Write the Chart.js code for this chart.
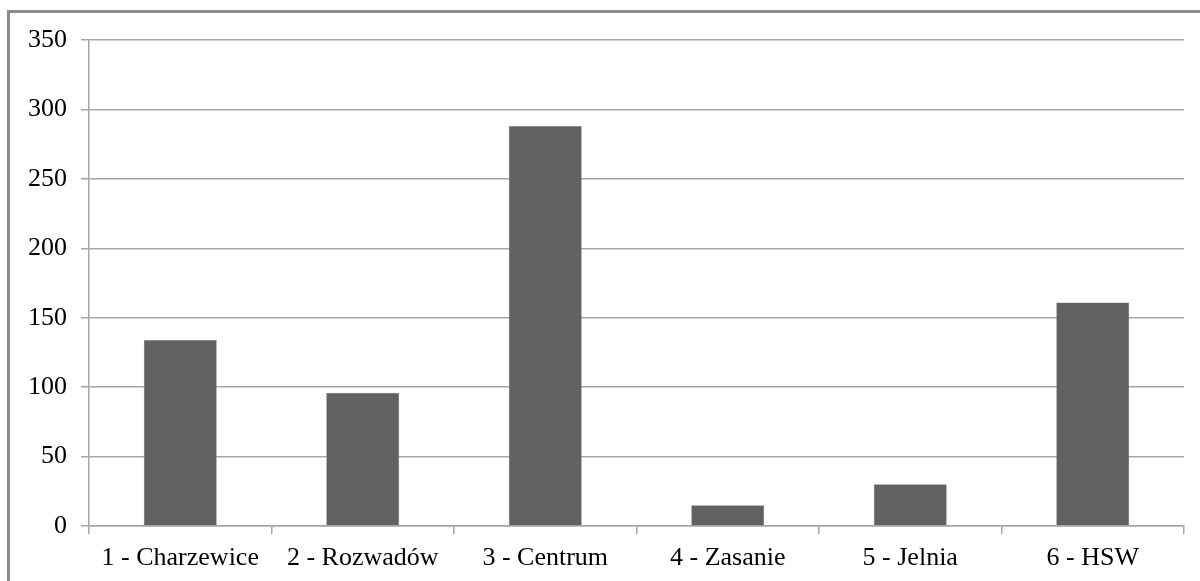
<!DOCTYPE html>
<html lang="pl">
<head>
<meta charset="utf-8">
<title>Liczba – osiedla</title>
<script src="https://cdn.jsdelivr.net/npm/chart.js@4/dist/chart.umd.min.js"></script>
<style>
  html, body { margin: 0; padding: 0; background: #fff; overflow: hidden; }
  #wrap { position: relative; width: 1200px; height: 581px; }
  #frame {
    position: absolute; left: 7px; top: 10px; right: -10px; bottom: -10px;
    border-left: 3px solid #8c8c8c; border-top: 3px solid #8c8c8c;
    pointer-events: none;
  }
  canvas { position: absolute; left: 0; top: 0; }
</style>
</head>
<body>
<div id="wrap">
  <canvas id="chart" width="1200" height="581"></canvas>
  <div id="frame"></div>
</div>
<script>
// Districts and their counts
const categories = ['1 - Charzewice', '2 - Rozwadów', '3 - Centrum', '4 - Zasanie', '5 - Jelnia', '6 - HSW'];
const counts = [134, 96, 288, 15, 30, 161];
const yTicks = [0, 50, 100, 150, 200, 250, 300, 350];

const serif = "'Liberation Serif', 'Times New Roman', serif";
const gridGray = '#a6a6a6';

new Chart(document.getElementById('chart'), {
  type: 'bar',
  data: {
    labels: categories,
    datasets: [{
      data: counts,
      backgroundColor: '#616161',
      borderColor: '#7a7a7a',
      borderWidth: 0.5,
      barPercentage: 0.4,
      categoryPercentage: 1.0
    }]
  },
  options: {
    responsive: false,
    animation: false,
    layout: { padding: { top: 40, right: 16, left: 0, bottom: 0 } },
    plugins: { legend: { display: false }, tooltip: { enabled: false } },
    scales: {
      x: {
        offset: true,
        grid: {
          offset: true,
          drawOnChartArea: false,
          drawTicks: true,
          tickLength: 8,
          color: gridGray,
          lineWidth: 1.5
        },
        border: { color: gridGray, width: 1.5 },
        ticks: {
          color: '#000',
          padding: 9,
          maxRotation: 0,
          autoSkip: false,
          font: { family: serif, size: 26 }
        },
        afterFit(scale) { scale.height = 55; }
      },
      y: {
        min: 0,
        max: 350,
        afterBuildTicks(scale) { scale.ticks = yTicks.map(v => ({ value: v })); },
        grid: {
          color: gridGray,
          lineWidth: 1.5,
          drawTicks: true,
          tickLength: 8
        },
        border: { color: gridGray, width: 1.5 },
        ticks: {
          color: '#000',
          padding: 14,
          font: { family: serif, size: 26 }
        },
        afterFit(scale) { scale.width = 89; }
      }
    }
  }
});
</script>
</body>
</html>
